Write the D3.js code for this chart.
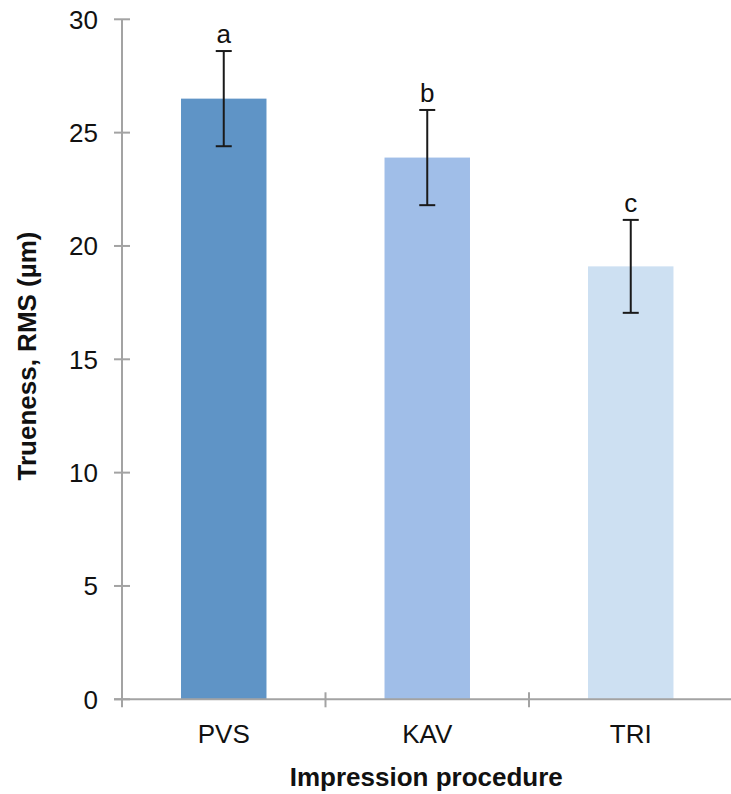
<!DOCTYPE html>
<html>
<head>
<meta charset="utf-8">
<script src="https://cdn.jsdelivr.net/npm/d3@7/dist/d3.min.js"></script>
<style>
  html, body { margin: 0; padding: 0; background: #fff; }
  svg { display: block; font-family: "Liberation Sans", Arial, sans-serif; }
</style>
</head>
<body>
<svg id="chart" width="731" height="794"></svg>
<script>
// Trueness (RMS, µm) by impression procedure, mean ± SD
const categories = ["PVS", "KAV", "TRI"];
const means = [26.5, 23.9, 19.1];
const errors = [2.1, 2.1, 2.05];
const groupLetters = ["a", "b", "c"];
const yTicks = [0, 5, 10, 15, 20, 25, 30];
const barColors = ["#5f94c6", "#a0bee8", "#cde0f2"];

const svg = d3.select("#chart");
const plotLeft = 122, plotRight = 732.5, plotTop = 19.3, plotBottom = 699.3;

const x = d3.scaleBand()
  .domain(categories)
  .range([plotLeft, plotRight])
  .paddingInner(0.58)
  .paddingOuter(0.29);

const y = d3.scaleLinear().domain([0, 30]).range([plotBottom, plotTop]);

const axisColor = "#a3a3a3";
const step = x.step();

// Bars
svg.append("g").selectAll("rect")
  .data(categories)
  .join("rect")
  .attr("x", d => x(d))
  .attr("width", x.bandwidth())
  .attr("y", (d, i) => y(means[i]))
  .attr("height", (d, i) => y(0) - y(means[i]))
  .attr("fill", (d, i) => barColors[i]);

// Y axis: line, cross ticks and labels
const yAxis = svg.append("g");
yAxis.append("line")
  .attr("x1", plotLeft).attr("x2", plotLeft)
  .attr("y1", y(30)).attr("y2", plotBottom + 8)
  .attr("stroke", axisColor).attr("stroke-width", 2);
yAxis.selectAll(".tick")
  .data(yTicks)
  .join("line")
  .attr("x1", plotLeft - 8).attr("x2", plotLeft + 8)
  .attr("y1", d => y(d)).attr("y2", d => y(d))
  .attr("stroke", axisColor).attr("stroke-width", 2);
yAxis.selectAll("text")
  .data(yTicks)
  .join("text")
  .attr("x", 98)
  .attr("y", d => y(d))
  .attr("dy", "0.36em")
  .attr("text-anchor", "end")
  .attr("font-size", 26)
  .attr("fill", "#111")
  .text(d => d);

// X axis: line, category boundary ticks and labels
const xAxis = svg.append("g");
xAxis.append("line")
  .attr("x1", plotLeft - 8).attr("x2", plotRight + 4)
  .attr("y1", plotBottom).attr("y2", plotBottom)
  .attr("stroke", axisColor).attr("stroke-width", 2);
const boundaries = d3.range(1, categories.length + 1).map(i => plotLeft + i * step);
xAxis.selectAll(".tick")
  .data(boundaries)
  .join("line")
  .attr("x1", d => d).attr("x2", d => d)
  .attr("y1", plotBottom - 7).attr("y2", plotBottom + 8)
  .attr("stroke", axisColor).attr("stroke-width", 2);
xAxis.selectAll("text")
  .data(categories)
  .join("text")
  .attr("x", d => x(d) + x.bandwidth() / 2)
  .attr("y", 743)
  .attr("text-anchor", "middle")
  .attr("font-size", 26)
  .attr("fill", "#111")
  .text(d => d);

// Error bars
const capHalf = 8;
const eb = svg.append("g").attr("stroke", "#1a1a1a").attr("stroke-width", 2);
categories.forEach((c, i) => {
  const cx = x(c) + x.bandwidth() / 2;
  const hi = y(means[i] + errors[i]);
  const lo = y(means[i] - errors[i]);
  eb.append("line").attr("x1", cx).attr("x2", cx).attr("y1", hi).attr("y2", lo);
  eb.append("line").attr("x1", cx - capHalf).attr("x2", cx + capHalf).attr("y1", hi).attr("y2", hi);
  eb.append("line").attr("x1", cx - capHalf).attr("x2", cx + capHalf).attr("y1", lo).attr("y2", lo);
});

// Significance group letters above the error bars
svg.append("g").selectAll("text")
  .data(categories)
  .join("text")
  .attr("x", d => x(d) + x.bandwidth() / 2)
  .attr("y", (d, i) => y(means[i] + errors[i]) - 8)
  .attr("text-anchor", "middle")
  .attr("font-size", 26)
  .attr("fill", "#111")
  .text((d, i) => groupLetters[i]);

// Axis titles
svg.append("text")
  .attr("x", (plotLeft + plotRight) / 2 - 1)
  .attr("y", 786)
  .attr("text-anchor", "middle")
  .attr("font-size", 26)
  .attr("font-weight", "bold")
  .attr("fill", "#111")
  .text("Impression procedure");

svg.append("text")
  .attr("transform", "translate(36,356) rotate(-90)")
  .attr("text-anchor", "middle")
  .attr("font-size", 26)
  .attr("font-weight", "bold")
  .attr("fill", "#111")
  .text("Trueness, RMS (µm)");
</script>
</body>
</html>
